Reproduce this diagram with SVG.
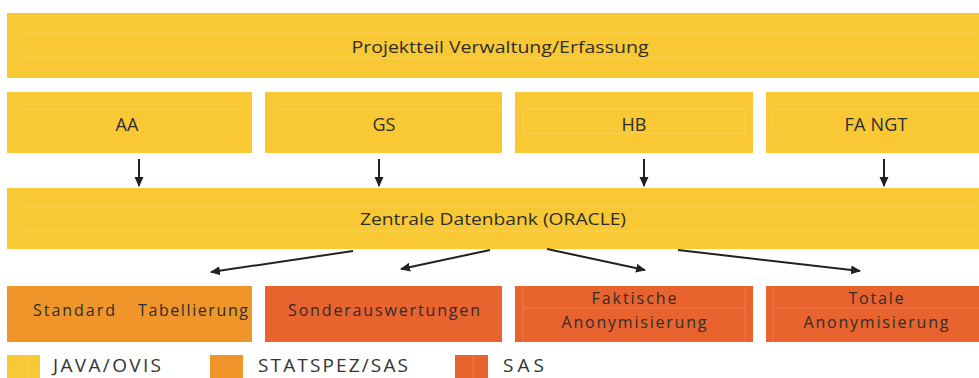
<svg xmlns="http://www.w3.org/2000/svg" width="979" height="378" viewBox="0 0 979 378">
<defs>
<marker id="ah" markerWidth="10" markerHeight="10" refX="9" refY="5" orient="auto" markerUnits="userSpaceOnUse">
<path d="M0,0.5 L10,5 L0,9.5 Z" fill="#222"/>
</marker>
<style>
.y{fill:#F8C835}
.o{fill:#F0952A}
.r{fill:#E8632E}
.g{stroke:#FAD15A;stroke-width:1;fill:none}
.gr{stroke:#EE7D4C;stroke-width:1;fill:none}
.t{font-family:"Open Sans","Liberation Sans",sans-serif;font-size:16px;fill:#2e2e2e;text-anchor:middle}
.b{font-size:18px}
.l{font-family:"Open Sans","Liberation Sans",sans-serif;font-size:19px;fill:#333}
.c{stroke:#222;stroke-width:2;fill:none;marker-end:url(#ah)}
</style>
</defs>
<rect width="979" height="378" fill="#fff"/>

<g id="projektteil">
<rect class="y" x="7" y="13" width="972" height="65"/>
<path class="g" d="M24,33 H976 M24,58 H976"/>
<text class="t" x="500" y="53" textLength="297" lengthAdjust="spacingAndGlyphs">Projektteil Verwaltung/Erfassung</text>
</g>

<g id="aa">
<rect class="y" x="7" y="92" width="245" height="61"/>
<path class="g" d="M24,109 H245"/>
<text class="t b" x="127" y="131">AA</text>
</g>
<g id="gs">
<rect class="y" x="265" y="92" width="237" height="61"/>
<path class="g" d="M273,109 H502"/>
<text class="t b" x="384" y="131">GS</text>
</g>
<g id="hb">
<rect class="y" x="515" y="92" width="238" height="61"/>
<rect class="g" x="523" y="109" width="222" height="24"/>
<text class="t b" x="634" y="131">HB</text>
</g>
<g id="fangt">
<rect class="y" x="766" y="92" width="213" height="61"/>
<path class="g" d="M773,133 V109 H979"/>
<text class="t b" x="876" y="131" textLength="63" lengthAdjust="spacing">FA NGT</text>
</g>

<g id="zentrale">
<rect class="y" x="7" y="188" width="972" height="61"/>
<path class="g" d="M24,206 H976 M24,231 H976"/>
<text class="t" x="493" y="225" textLength="266" lengthAdjust="spacingAndGlyphs">Zentrale Datenbank (ORACLE)</text>
</g>

<g id="standard">
<rect class="o" x="7" y="286" width="245" height="56"/>
<text class="t" x="140" y="316"><tspan x="74" textLength="82" lengthAdjust="spacing">Standard</tspan><tspan x="193" textLength="110" lengthAdjust="spacing">Tabellierung</tspan></text>
</g>
<g id="sonder">
<rect class="r" x="265" y="286" width="237" height="56"/>
<text class="t" x="384" y="316" textLength="192" lengthAdjust="spacing">Sonderauswertungen</text>
</g>
<g id="faktische">
<rect class="r" x="515" y="286" width="238" height="56"/>
<path class="gr" d="M523,286 V342 M745,286 V342 M523,308 H745"/>
<text class="t" x="634" y="304" textLength="85" lengthAdjust="spacing">Faktische</text>
<text class="t" x="634" y="328" textLength="145" lengthAdjust="spacing">Anonymisierung</text>
</g>
<g id="totale">
<rect class="r" x="766" y="286" width="213" height="56"/>
<path class="gr" d="M773,286 V342 M773,308 H979"/>
<text class="t" x="876" y="304" textLength="55" lengthAdjust="spacing">Totale</text>
<text class="t" x="876" y="328" textLength="145" lengthAdjust="spacing">Anonymisierung</text>
</g>

<g id="connectors">
<path class="c" d="M139,159 V186"/>
<path class="c" d="M379,159 V186"/>
<path class="c" d="M644,159 V186"/>
<path class="c" d="M884,159 V186"/>
<path class="c" d="M353,251 L211,272"/>
<path class="c" d="M490,250 L401,269"/>
<path class="c" d="M547,249 L645,270"/>
<path class="c" d="M678,250 L860,271"/>
</g>

<g id="legend">
<rect class="y" x="7" y="355" width="33" height="23"/>
<path class="g" d="M27,355 V378"/>
<text class="l" x="53" y="372" textLength="108" lengthAdjust="spacing">JAVA/OVIS</text>
<rect class="o" x="210" y="355" width="33" height="23"/>
<text class="l" x="258" y="372" textLength="150" lengthAdjust="spacing">STATSPEZ/SAS</text>
<rect class="r" x="455" y="355" width="33" height="23"/>
<path class="gr" d="M473,355 V378"/>
<text class="l" x="503" y="372" textLength="41" lengthAdjust="spacing">SAS</text>
</g>
</svg>
